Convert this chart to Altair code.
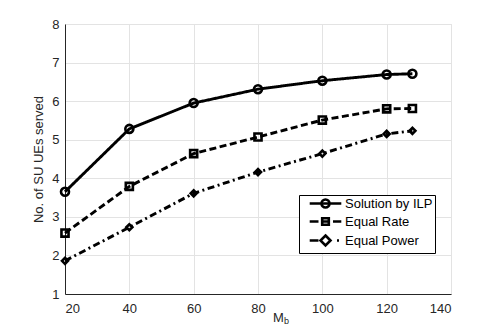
import altair as alt
import pandas as pd

# ---- data ----
x_vals = [20, 40, 60, 80, 100, 120, 128]
ilp = [3.65, 5.28, 5.95, 6.31, 6.53, 6.69, 6.71]
equal_rate = [2.58, 3.79, 4.64, 5.07, 5.51, 5.80, 5.81]
equal_power = [1.86, 2.73, 3.61, 4.16, 4.64, 5.15, 5.23]
series_names = ["Solution by ILP", "Equal Rate", "Equal Power"]
x_ticks = [20, 40, 60, 80, 100, 120, 140]
y_ticks = [1, 2, 3, 4, 5, 6, 7, 8]

rows = []
for name, vals in zip(series_names, [ilp, equal_rate, equal_power]):
    for xv, yv in zip(x_vals, vals):
        rows.append({"series": name, "Mb": xv, "served": yv})
df = pd.DataFrame(rows)

FONT = "Liberation Sans"
INK = "#262626"

x_enc = alt.X("Mb:Q", scale=alt.Scale(domain=[20, 140], nice=False),
              axis=alt.Axis(values=x_ticks, tickCount=7, title="M", titleX=213, titleY=27,
                            titleAlign="center", titleBaseline="alphabetic",
                            labelOverlap=False))
y_enc = alt.Y("served:Q", scale=alt.Scale(domain=[1, 8], nice=False),
              axis=alt.Axis(values=y_ticks, tickCount=8, title="No. of SU UEs served",
                            titleX=-27, titleY=135, titleAngle=-90,
                            titleAlign="center", titleBaseline="middle",
                            labelOverlap=False))

base = alt.Chart(df)

lines = base.mark_line(color="black", strokeWidth=2.9).encode(
    x=x_enc, y=y_enc,
    strokeDash=alt.StrokeDash("series:N", scale=alt.Scale(
        domain=series_names, range=[[1, 0], [7, 3.5], [7, 3.5, 2, 3.5]]), legend=None),
    detail="series:N",
)

points = base.mark_point(color="black", filled=False, strokeWidth=2.6, opacity=1).encode(
    x=x_enc, y=y_enc,
    shape=alt.Shape("series:N", scale=alt.Scale(
        domain=series_names, range=["circle", "square", "diamond"]), legend=None),
    size=alt.Size("series:N", scale=alt.Scale(
        domain=series_names, range=[64, 36, 110]), legend=None),
)

legend_paths = [
    "M-3.16,0H3.16M0.8,0A0.8,0.8 0 1,1 -0.8,0A0.8,0.8 0 1,1 0.8,0",
    "M-3.16,0H-1.4M1.5,0H3.16M-0.66,-0.66H0.66V0.66H-0.66ZM-0.66,0H0.66",
    "M-3.16,0H-1.4M2.3,0H2.7M0,-1L1,0L0,1L-1,0Z",
]

legend_layer = base.mark_point(color="black", filled=False, opacity=0).encode(
    x=x_enc, y=y_enc,
    shape=alt.Shape("series:N", scale=alt.Scale(domain=series_names, range=legend_paths),
                    legend=alt.Legend(title=None, orient="none", legendX=234, legendY=171,
                                      symbolSize=100, symbolStrokeWidth=2.6,
                                      symbolStrokeColor="black", symbolFillColor="transparent",
                                      symbolOpacity=1, symbolOffset=18, labelOffset=13,
                                      labelFont=FONT, labelFontSize=13, labelColor="black",
                                      fillColor="white", strokeColor="black", padding=2,
                                      rowPadding=0, cornerRadius=0)),
)

sub = alt.Chart(pd.DataFrame({"t": ["b"]})).mark_text(
    font=FONT, fontSize=9, color=INK, align="left", baseline="alphabetic"
).encode(text="t:N", x=alt.value(219), y=alt.value(300))

chart = alt.layer(lines, points, legend_layer, sub).resolve_scale(
    shape="independent"
).properties(
    width=386, height=270,
    background="white",
    autosize=alt.AutoSizeParams(type="none"),
    padding={"left": 57, "top": 16, "right": 39, "bottom": 34},
).configure_axis(
    labelFont=FONT, labelFontSize=13, labelColor=INK, titleFont=FONT, titleFontSize=13,
    titleColor=INK, titleFontWeight="normal", domainColor=INK, domainWidth=1,
    gridColor="#e3e3e3", gridWidth=1, ticks=False, labelPadding=6,
).configure_axisX(labelPadding=8).configure_view(stroke="#e3e3e3")

chart.save("out.html", embed_options={"renderer": "svg", "actions": False})
